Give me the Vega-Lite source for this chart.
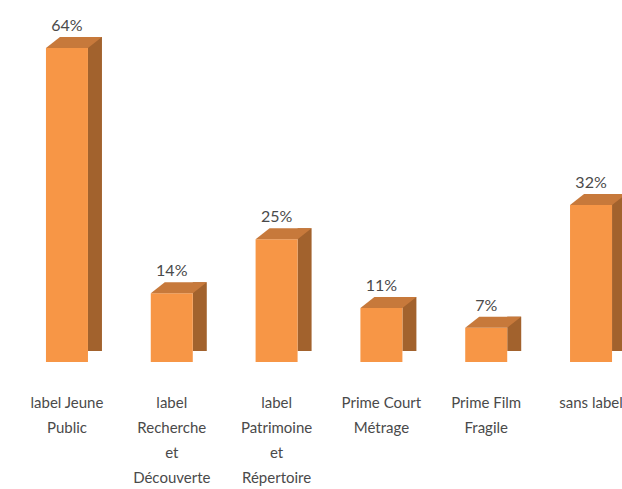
{
  "$schema": "https://vega.github.io/schema/vega-lite/v6.json",
  "width": 566,
  "height": 314,
  "autosize": "none",
  "padding": {"left": 46, "top": 48, "right": 10, "bottom": 127},
  "background": "white",
  "config": {"view": {"stroke": null}},
  "data": {
    "values": [
      {"cat": "label Jeune Public", "pct": 0.64},
      {"cat": "label Recherche et Découverte", "pct": 0.14},
      {"cat": "label Patrimoine et Répertoire", "pct": 0.25},
      {"cat": "Prime Court Métrage", "pct": 0.11},
      {"cat": "Prime Film Fragile", "pct": 0.07},
      {"cat": "sans label", "pct": 0.32}
    ]
  },
  "encoding": {
    "x": {
      "field": "cat",
      "type": "nominal",
      "sort": null,
      "scale": {"paddingInner": 0.6, "paddingOuter": 0},
      "axis": {
        "title": null,
        "domain": false,
        "ticks": false,
        "grid": false,
        "labelAngle": 0,
        "labelFont": "Lato",
        "labelFontSize": 15,
        "labelColor": "#4a4a4a",
        "labelLineHeight": 25,
        "labelPadding": 33,
        "labelLimit": 0,
        "labelBaseline": "top",
        "labelExpr": "datum.value == 'label Jeune Public' ? ['label Jeune', 'Public'] : datum.value == 'label Recherche et Découverte' ? ['label', 'Recherche', 'et', 'Découverte'] : datum.value == 'label Patrimoine et Répertoire' ? ['label', 'Patrimoine', 'et', 'Répertoire'] : datum.value == 'Prime Court Métrage' ? ['Prime Court', 'Métrage'] : datum.value == 'Prime Film Fragile' ? ['Prime Film', 'Fragile'] : datum.value"
      }
    }
  },
  "layer": [
    {
      "mark": {"type": "bar", "width": 14, "xOffset": 28, "yOffset": -11, "y2Offset": 0, "color": "#A2622D"},
      "encoding": {
        "y": {"field": "pct", "type": "quantitative", "scale": {"domain": [0, 0.64], "nice": false}, "axis": null}
      }
    },
    {
      "mark": {"type": "point", "filled": true, "opacity": 1, "size": 3136, "strokeWidth": 0, "color": "white",
        "shape": "M0.74,0.04 L1.35,0.04 L1.35,-0.42 Z"},
      "encoding": {
        "y": {"datum": 0, "type": "quantitative", "scale": {"domain": [0, 0.64], "nice": false}, "axis": null}
      }
    },
    {
      "mark": {"type": "bar", "width": 42, "color": "#F79646"},
      "encoding": {
        "y": {"field": "pct", "type": "quantitative", "scale": {"domain": [0, 0.64], "nice": false}, "axis": null}
      }
    },
    {
      "mark": {"type": "point", "filled": true, "opacity": 1, "size": 3136, "strokeWidth": 0, "color": "#C7793B",
        "shape": "M-0.75,0 L0.75,0 L1.25,-0.3929 L-0.25,-0.3929 Z"},
      "encoding": {
        "y": {"field": "pct", "type": "quantitative", "scale": {"domain": [0, 0.64], "nice": false}, "axis": null}
      }
    },
    {
      "mark": {"type": "text", "dy": -17, "baseline": "alphabetic", "font": "Lato", "fontSize": 16, "color": "#4a4a4a"},
      "encoding": {
        "y": {"field": "pct", "type": "quantitative", "scale": {"domain": [0, 0.64], "nice": false}, "axis": null},
        "text": {"field": "pct", "type": "quantitative", "format": ".0%"}
      }
    }
  ]
}
